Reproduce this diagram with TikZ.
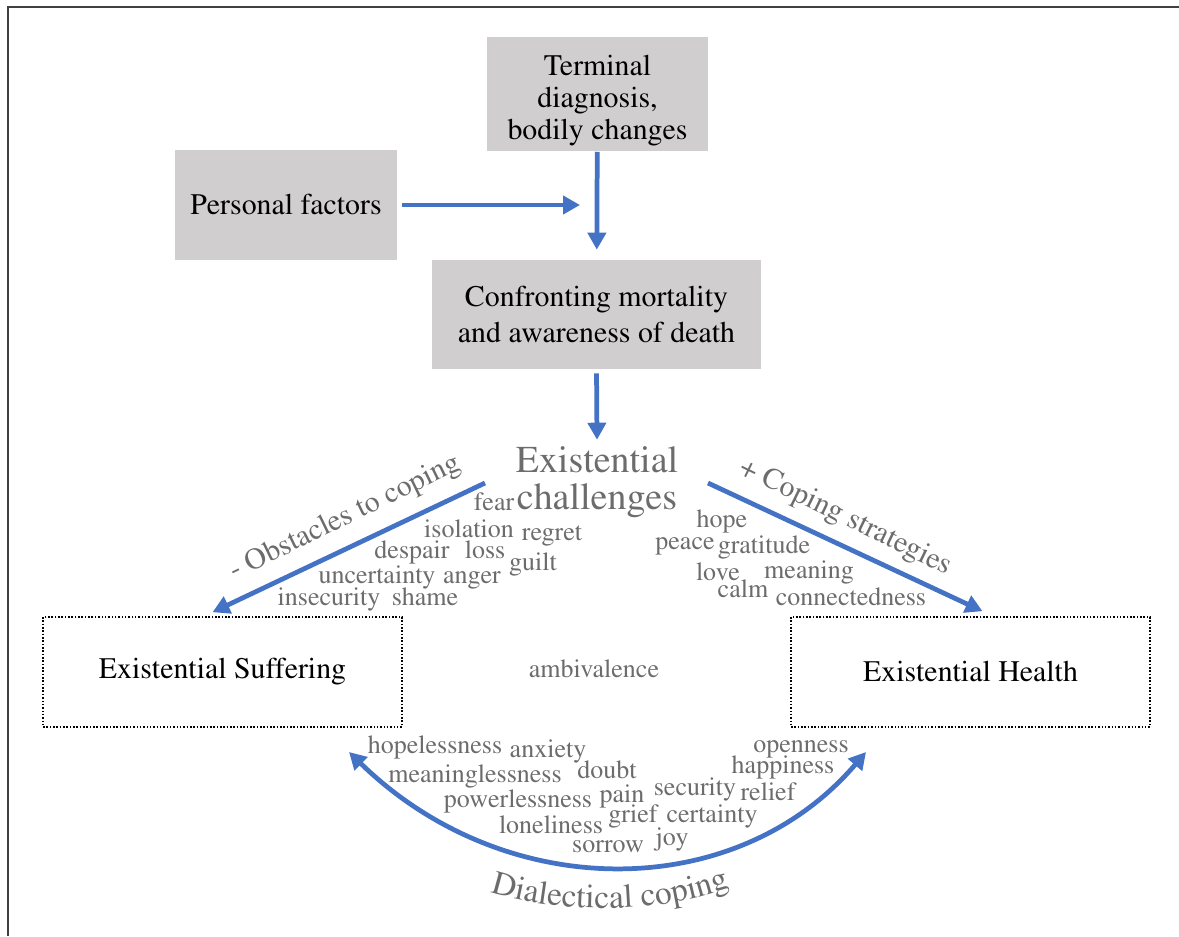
\documentclass[tikz,border=0pt]{standalone}
\usepackage[T1]{fontenc}
\usepackage{mathptmx}
\usetikzlibrary{arrows.meta,positioning,decorations.text}
\definecolor{boxgray}{RGB}{208,206,206}
\definecolor{arrblue}{RGB}{68,114,196}
\definecolor{wordgray}{RGB}{108,108,108}

\begin{document}
\begin{tikzpicture}[x=0.02cm, y=-0.02cm,
        >={Triangle[length=0.34cm, width=0.36cm]},
        greybox/.style={rectangle, fill=boxgray, align=center,
                        font=\rmfamily\fontsize{17}{20.5}\selectfont},
        dotbox/.style={rectangle, draw, densely dotted, line width=0.9pt,
                       minimum width=7.18cm, minimum height=2.2cm,
                       font=\rmfamily\fontsize{17}{20.5}\selectfont},
        title/.style={align=center, inner sep=4pt, text=wordgray,
                      font=\rmfamily\fontsize{21.6}{21}\selectfont},
        side/.style={text=wordgray, font=\rmfamily\fontsize{17}{20}\selectfont},
        word/.style={anchor=base, inner sep=0pt, text=wordgray,
                     font=\rmfamily\fontsize{14.8}{16}\selectfont},
        arr/.style={->, line width=2.7pt, arrblue},
        frame/.style={line width=1.2pt, black!75}]
        \useasboundingbox (0,0) rectangle (1179,936);
        \draw[frame] (8,936) -- (8,7) -- (1179,7);

        % top of the model
        \node[greybox, minimum width=4.42cm, minimum height=2.24cm, text height=55pt,
              font=\rmfamily\fontsize{17}{18}\selectfont] (term) at (597.5,94)
            {Terminal\\diagnosis,\\bodily changes};
        \node[greybox, minimum width=4.44cm, minimum height=2.2cm] (pers) at (286,205)
            {Personal factors};
        \node[greybox, minimum width=6.58cm, minimum height=2.18cm] (conf) at (596.5,314.5)
            {Confronting mortality\\and awareness of death};
        \node[title] (chal) at (597,482.5) {Existential\\challenges};
        \coordinate (join) at (580,205);
        \draw[arr, shorten <=0.1cm] (pers) -- (join);
        \draw[arr, shorten >=0.2cm] (term) -- (conf);
        \draw[arr, shorten <=0.08cm] (conf.south) -- (chal.north);

        % the two outcomes
        \node[dotbox] (suf) at (222.5,672) {Existential Suffering};
        \node[dotbox] (hea) at (970.5,672) {Existential Health};
        \node[word] (amb) at (594,677) {ambivalence};
        \coordinate (ls) at (485,483);
        \coordinate (rs) at (708,483);
        \draw[arr] (ls) -- ([shift={(-10,-4)}]suf.north);
        \draw[arr] (rs) -- ([shift={(12,-5)}]hea.north);
        \node[side, rotate=26] (obst) at (345,518) {- Obstacles to coping};
        \node[side, rotate=-26] (cop) at (845,518) {+ Coping strategies};

        % word clouds
        \foreach \w/\x/\y in {fear/494/510, isolation/469/537, regret/552/540,
                despair/412/558, loss/485/558, guilt/533/570, uncertainty/377/583,
                anger/472/583, insecurity/329/605, shame/425/605,
                hope/722/527, peace/685/549, gratitude/764/553, love/718/580,
                meaning/809/578, calm/743/597, connectedness/851/605,
                hopelessness/435/753, anxiety/548/757, meaninglessness/475/782,
                doubt/607/778, powerlessness/518/807, pain/622/802,
                security/695/795, relief/768/800, loneliness/551/833,
                grief/633/822, certainty/712/822, sorrow/608/852, joy/672/845,
                openness/801/752, happiness/783/773}
            \node[word] (\w) at (\x,\y) {\w};

        % dialectical coping
        \coordinate (dl) at (349,752);
        \coordinate (dr) at (866,752);
        \draw[arr, <->] (dl) .. controls (505,904) and (736,904) .. (dr);
        \path[decorate, decoration={text along path, text align=center,
                text={|\rmfamily\fontsize{19}{19}\selectfont\color{wordgray}|Dialectical coping}}]
            (478,888) .. controls (550,916) and (670,916) .. (742,882);
    \end{tikzpicture}
\end{document}
